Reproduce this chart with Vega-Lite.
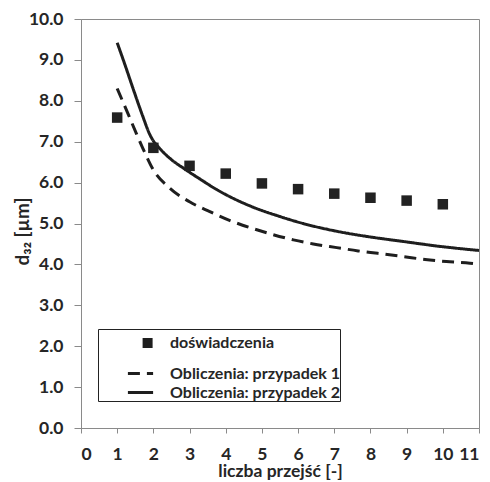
{
  "$schema": "https://vega.github.io/schema/vega-lite/v6.json",
  "width": 398,
  "height": 409,
  "autosize": {"type": "none"},
  "padding": {"left": 81, "top": 19, "right": 11, "bottom": 54},
  "background": "white",
  "config": {
    "view": {"stroke": "#8a8a8a", "strokeWidth": 1},
    "font": "Lato",
    "axis": {
      "labelFont": "Lato", "labelFontWeight": "bold", "labelFontSize": 17.5, "labelColor": "#262626",
      "titleFont": "Lato", "titleFontWeight": "bold", "titleFontSize": 17.5, "titleColor": "#262626",
      "domainColor": "#8a8a8a", "tickColor": "#8a8a8a", "grid": false
    },
    "legend": {
      "title": "MM",
      "titleOrient": "right",
      "titleAngle": 0,
      "titleOpacity": 0,
      "titleFontSize": 14.4,
      "titlePadding": 0,
      "orient": "none",
      "legendX": 17,
      "legendY": 310,
      "direction": "vertical",
      "strokeColor": "#222222",
      "padding": 0,
      "symbolOffset": 28.5,
      "labelOffset": 15.5,
      "symbolSize": 324,
      "symbolType": "M-1.4,0H1.4",
      "symbolStrokeColor": "#1e1e1e",
      "rowPadding": 0,
      "labelFont": "Lato",
      "labelFontWeight": "bold",
      "labelFontSize": 16,
      "labelColor": "#262626",
      "labelLimit": 400
    }
  },
  "datasets": {
    "exp": [
      {"x": 1, "y": 7.59, "series": "doświadczenia"},
      {"x": 2, "y": 6.85, "series": "doświadczenia"},
      {"x": 3, "y": 6.41, "series": "doświadczenia"},
      {"x": 4, "y": 6.22, "series": "doświadczenia"},
      {"x": 5, "y": 5.98, "series": "doświadczenia"},
      {"x": 6, "y": 5.84, "series": "doświadczenia"},
      {"x": 7, "y": 5.73, "series": "doświadczenia"},
      {"x": 8, "y": 5.63, "series": "doświadczenia"},
      {"x": 9, "y": 5.56, "series": "doświadczenia"},
      {"x": 10, "y": 5.47, "series": "doświadczenia"}
    ],
    "calc": [
      {"x": 1, "y": 8.30, "series": "Obliczenia: przypadek 1"},
      {"x": 1.31, "y": 7.66, "series": "Obliczenia: przypadek 1"},
      {"x": 1.54, "y": 7.18, "series": "Obliczenia: przypadek 1"},
      {"x": 1.77, "y": 6.72, "series": "Obliczenia: przypadek 1"},
      {"x": 2.0, "y": 6.31, "series": "Obliczenia: przypadek 1"},
      {"x": 2.46, "y": 5.86, "series": "Obliczenia: przypadek 1"},
      {"x": 3.0, "y": 5.53, "series": "Obliczenia: przypadek 1"},
      {"x": 3.56, "y": 5.29, "series": "Obliczenia: przypadek 1"},
      {"x": 4.12, "y": 5.07, "series": "Obliczenia: przypadek 1"},
      {"x": 4.67, "y": 4.90, "series": "Obliczenia: przypadek 1"},
      {"x": 5.3, "y": 4.73, "series": "Obliczenia: przypadek 1"},
      {"x": 5.87, "y": 4.60, "series": "Obliczenia: przypadek 1"},
      {"x": 6.42, "y": 4.50, "series": "Obliczenia: przypadek 1"},
      {"x": 7.07, "y": 4.41, "series": "Obliczenia: przypadek 1"},
      {"x": 7.66, "y": 4.33, "series": "Obliczenia: przypadek 1"},
      {"x": 8.2, "y": 4.27, "series": "Obliczenia: przypadek 1"},
      {"x": 8.91, "y": 4.19, "series": "Obliczenia: przypadek 1"},
      {"x": 9.51, "y": 4.12, "series": "Obliczenia: przypadek 1"},
      {"x": 10.1, "y": 4.07, "series": "Obliczenia: przypadek 1"},
      {"x": 10.75, "y": 4.03, "series": "Obliczenia: przypadek 1"},
      {"x": 10.95, "y": 4.01, "series": "Obliczenia: przypadek 1"},
      {"x": 1, "y": 9.42, "series": "Obliczenia: przypadek 2"},
      {"x": 1.2, "y": 8.92, "series": "Obliczenia: przypadek 2"},
      {"x": 1.45, "y": 8.27, "series": "Obliczenia: przypadek 2"},
      {"x": 1.7, "y": 7.64, "series": "Obliczenia: przypadek 2"},
      {"x": 1.91, "y": 7.16, "series": "Obliczenia: przypadek 2"},
      {"x": 2.0, "y": 7.02, "series": "Obliczenia: przypadek 2"},
      {"x": 2.14, "y": 6.87, "series": "Obliczenia: przypadek 2"},
      {"x": 2.46, "y": 6.59, "series": "Obliczenia: przypadek 2"},
      {"x": 2.87, "y": 6.33, "series": "Obliczenia: przypadek 2"},
      {"x": 3.3, "y": 6.08, "series": "Obliczenia: przypadek 2"},
      {"x": 3.75, "y": 5.83, "series": "Obliczenia: przypadek 2"},
      {"x": 4.67, "y": 5.43, "series": "Obliczenia: przypadek 2"},
      {"x": 5.5, "y": 5.17, "series": "Obliczenia: przypadek 2"},
      {"x": 6.14, "y": 5.0, "series": "Obliczenia: przypadek 2"},
      {"x": 7.07, "y": 4.81, "series": "Obliczenia: przypadek 2"},
      {"x": 8.0, "y": 4.67, "series": "Obliczenia: przypadek 2"},
      {"x": 8.91, "y": 4.56, "series": "Obliczenia: przypadek 2"},
      {"x": 9.83, "y": 4.45, "series": "Obliczenia: przypadek 2"},
      {"x": 11, "y": 4.34, "series": "Obliczenia: przypadek 2"}
    ]
  },
  "encoding": {
    "x": {
      "field": "x", "type": "quantitative",
      "scale": {"domain": [0, 11], "nice": false, "zero": false},
      "axis": {"values": [0,1,2,3,4,5,6,7,8,9,10,11], "format": "d", "tickSize": 5, "labelPadding": 12, "title": "liczba przejść [-]", "titleBaseline": "alphabetic", "titleY": 48}
    },
    "y": {
      "field": "y", "type": "quantitative",
      "scale": {"domain": [0, 10], "nice": false},
      "axis": {"values": [0,1,2,3,4,5,6,7,8,9,10], "format": ".1f", "tickSize": 7, "labelPadding": 11, "title": "d₃₂ [µm]", "titleFontSize": 19, "titleBaseline": "alphabetic", "titleX": -53, "titleY": 212}
    }
  },
  "layer": [
    {
      "data": {"name": "calc"},
      "mark": {"type": "line", "color": "#1e1e1e", "interpolate": "monotone", "strokeCap": "butt"},
      "encoding": {
        "detail": {"field": "series"},
        "strokeDash": {
          "field": "series", "type": "nominal",
          "scale": {
            "domain": ["doświadczenia", "Obliczenia: przypadek 1", "Obliczenia: przypadek 2"],
            "range": [[0, 14.7, 10, 100], [12, 7], [1, 0]]
          }
        },
        "strokeWidth": {
          "field": "series", "type": "nominal",
          "scale": {
            "type": "ordinal",
            "domain": ["doświadczenia", "Obliczenia: przypadek 1", "Obliczenia: przypadek 2"],
            "range": [10, 3, 3]
          }
        }
      }
    },
    {
      "data": {"name": "exp"},
      "mark": {"type": "point", "filled": true, "color": "#222222", "opacity": 1, "size": 545,
               "shape": "M-0.45,-0.45H0.45V0.45H-0.45Z"},
      "encoding": {}
    }
  ]
}
